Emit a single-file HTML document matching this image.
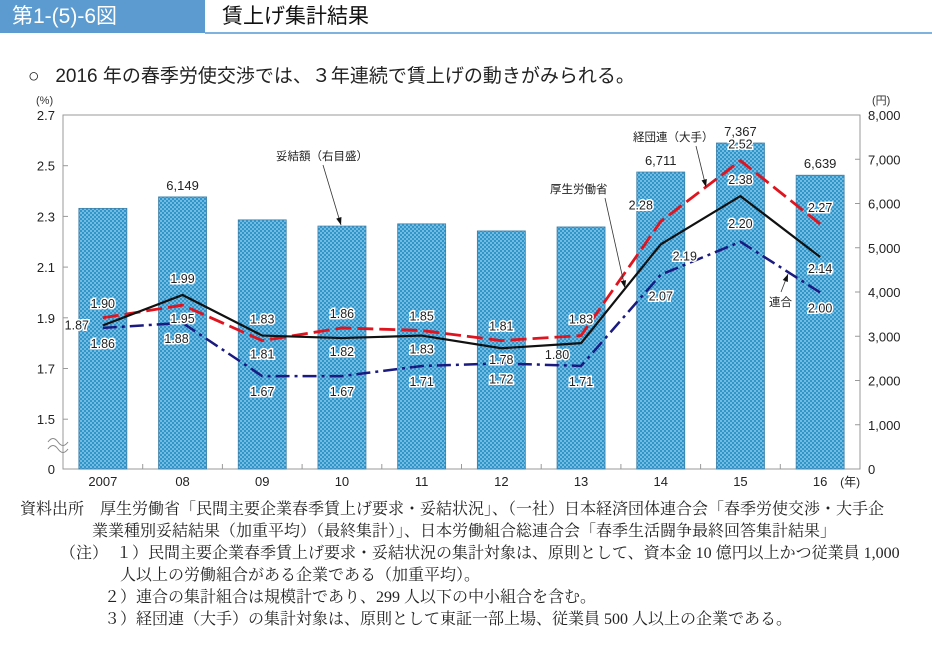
<!DOCTYPE html>
<html><head><meta charset="utf-8"><style>
body{margin:0;width:932px;height:649px;background:#fff;overflow:hidden;font-family:"Liberation Sans","Noto Sans CJK JP",sans-serif;position:relative}
.hdr{position:absolute;left:0;top:0;width:205px;height:33px;background:#5b9bd0;color:#fff;font-size:21px;line-height:33px;padding-left:12px;box-sizing:border-box}
.ttl{position:absolute;left:222px;top:0;height:33px;line-height:33px;font-size:21px;color:#111}
.hline{position:absolute;left:205px;top:32px;width:727px;height:2px;background:#7fb3dd}
.sub{position:absolute;left:28px;top:61px;font-size:19px;color:#222}
.ft{position:absolute;font-family:"Liberation Serif","Noto Serif CJK JP",serif;font-size:16px;color:#222;white-space:nowrap}
</style></head><body>
<div class="hdr">第1-(5)-6図</div>
<div class="ttl">賃上げ集計結果</div>
<div class="hline"></div>
<div class="sub">○&nbsp;&nbsp;&nbsp;2016 年の春季労使交渉では、３年連続で賃上げの動きがみられる。</div>
<svg id="chart" width="932" height="500" style="position:absolute;left:0;top:0" xmlns="http://www.w3.org/2000/svg"></svg>
<div class="ft" style="left:20px;top:496px">資料出所　厚生労働省「民間主要企業春季賃上げ要求・妥結状況」、（一社）日本経済団体連合会「春季労使交渉・大手企</div>
<div class="ft" style="left:92px;top:518px">業業種別妥結結果（加重平均）（最終集計）」、日本労働組合総連合会「春季生活闘争最終回答集計結果」</div>
<div class="ft" style="left:60px;top:540px">（注）　１）民間主要企業春季賃上げ要求・妥結状況の集計対象は、原則として、資本金 10 億円以上かつ従業員 1,000</div>
<div class="ft" style="left:120px;top:562px">人以上の労働組合がある企業である（加重平均）。</div>
<div class="ft" style="left:104px;top:584px">２）連合の集計組合は規模計であり、299 人以下の中小組合を含む。</div>
<div class="ft" style="left:104px;top:606px">３）経団連（大手）の集計対象は、原則として東証一部上場、従業員 500 人以上の企業である。</div>
<script>
const categories=["2007","08","09","10","11","12","13","14","15","16"];
const amounts=[5890,6149,5630,5490,5540,5380,5470,6711,7367,6639];
const amountLabels=["","6,149","","","","","","6,711","7,367","6,639"];
const mhlw=[1.87,1.99,1.83,1.82,1.83,1.78,1.80,2.19,2.38,2.14];
const keidanren=[1.90,1.95,1.81,1.86,1.85,1.81,1.83,2.28,2.52,2.27];
const rengo=[1.86,1.88,1.67,1.67,1.71,1.72,1.71,2.07,2.20,2.00];
const leftTicks=[2.7,2.5,2.3,2.1,1.9,1.7,1.5];
const rightTicks=[0,1000,2000,3000,4000,5000,6000,7000,8000];
// label offsets (layout, not data)
const offM=[[-26,4],[0,-12],[0,-12],[0,18],[0,18],[0,16],[-24,16],[24,16],[0,-12],[0,16]];
const offK=[[0,-10],[0,18],[0,18],[0,-10],[0,-10],[0,-10],[0,-12],[-20,-12],[0,-12],[0,-12]];
const offR=[[0,20],[-6,20],[0,20],[0,20],[0,20],[0,20],[0,20],[0,26],[0,-14],[0,20]];
const NS="http://www.w3.org/2000/svg";
const svg=document.getElementById('chart');
const L=63,R=860,T=115,B=469,step=(R-L)/categories.length;
const xc=i=>L+step*(i+0.5);
const yR=v=>B-v*(B-T)/8000;
const yL=v=>T+(2.7-v)*253.5;
function el(t,a,p){const e=document.createElementNS(NS,t);for(const k in a)e.setAttribute(k,a[k]);(p||svg).appendChild(e);return e;}
const defs=el('defs',{});
const pat=el('pattern',{id:'dots',width:4,height:4,patternUnits:'userSpaceOnUse'},defs);
el('rect',{width:4,height:4,fill:'#2f95cc'},pat);
el('circle',{cx:1,cy:1,r:0.9,fill:'#a6d6ef'},pat);
el('circle',{cx:3,cy:3,r:0.9,fill:'#a6d6ef'},pat);
const frame=el('rect',{x:L,y:T,width:R-L,height:B-T,fill:'none',stroke:'#999','stroke-width':1});


amounts.forEach((v,i)=>{
  const b=el('rect',{x:xc(i)-24,y:yR(v),width:48,height:B-yR(v),fill:'url(#dots)',stroke:'#3b7fa8','stroke-width':0.8});
  
  
  if(amountLabels[i]){const t=el('text',{x:xc(i),y:yR(v)-7,'text-anchor':'middle','font-size':13,fill:'#222'});t.textContent=amountLabels[i];
  
  }
});
leftTicks.forEach(v=>{const y=yL(v);el('line',{x1:L,x2:L+5,y1:y,y2:y,stroke:'#999'});
  const t=el('text',{x:L-8,y:y+5,'text-anchor':'end','font-size':13,fill:'#222'});t.textContent=v.toFixed(1);
  
  });
{const t=el('text',{x:L-8,y:B+5,'text-anchor':'end','font-size':13,fill:'#222'});t.textContent='0';

}
el('path',{d:'M48,442 q5,-7 10,0 t10,0 M48,449 q5,-7 10,0 t10,0',fill:'none',stroke:'#888','stroke-width':1});
rightTicks.forEach(v=>{const y=yR(v);el('line',{x1:R-5,x2:R,y1:y,y2:y,stroke:'#999'});
  const t=el('text',{x:R+8,y:y+5,'font-size':13,fill:'#222'});t.textContent=v.toLocaleString('en-US');
  
  });
categories.forEach((c,i)=>{if(i>0)el('line',{x1:L+step*i,x2:L+step*i,y1:B,y2:B-5,stroke:'#999'});
  const t=el('text',{x:xc(i),y:B+17,'text-anchor':'middle','font-size':13,fill:'#222'});t.textContent=c;
  
  });
{const t=el('text',{x:xc(9)+20,y:B+17,'font-size':12,fill:'#222'});t.textContent='(年)';
}
{const t=el('text',{x:36,y:104,'font-size':11,fill:'#333'});t.textContent='(%)';
}
{const t=el('text',{x:872,y:104,'font-size':11,fill:'#333'});t.textContent='(円)';
}
function series(arr,color,dash,w,name,off){
  const p=el('polyline',{points:arr.map((v,i)=>xc(i)+','+yL(v)).join(' '),fill:'none',stroke:color,'stroke-width':w,'stroke-dasharray':dash});
  
  
  arr.forEach((v,i)=>{const t=el('text',{x:xc(i)+off[i][0],y:yL(v)+off[i][1],'text-anchor':'middle','font-size':12.5,fill:'#222',stroke:'#fff','stroke-width':3,'paint-order':'stroke'});t.textContent=v.toFixed(2);
    
    });
}
series(rengo,'#1a1a80','14 5 3 5',2.5,'line-rengo',offR);
series(keidanren,'#e0141e','16 6',2.8,'line-keidanren',offK);
series(mhlw,'#111','',2.2,'line-mhlw',offM);
function ann(txt,tx,ty,x1,y1,x2,y2,name){
  const t=el('text',{x:tx,y:ty,'font-size':11.5,fill:'#222'});t.textContent=txt;
  
  
  el('line',{x1:x1,y1:y1,x2:x2,y2:y2,stroke:'#333','stroke-width':0.8});
  const a=Math.atan2(y2-y1,x2-x1),s=8;
  el('path',{d:`M${x2},${y2} L${x2-s*Math.cos(a-0.35)},${y2-s*Math.sin(a-0.35)} L${x2-s*Math.cos(a+0.35)},${y2-s*Math.sin(a+0.35)} Z`,fill:'#111'});
}
ann('妥結額（右目盛）',276,160,323,165,341,225,'annotation-amount');
ann('経団連（大手）',633,141,696,146,706,187,'annotation-keidanren');
ann('厚生労働省',550,193,605,198,625,288,'annotation-mhlw');
ann('連合',769,306,781,292,788,274,'annotation-rengo');
</script>
</body></html>
